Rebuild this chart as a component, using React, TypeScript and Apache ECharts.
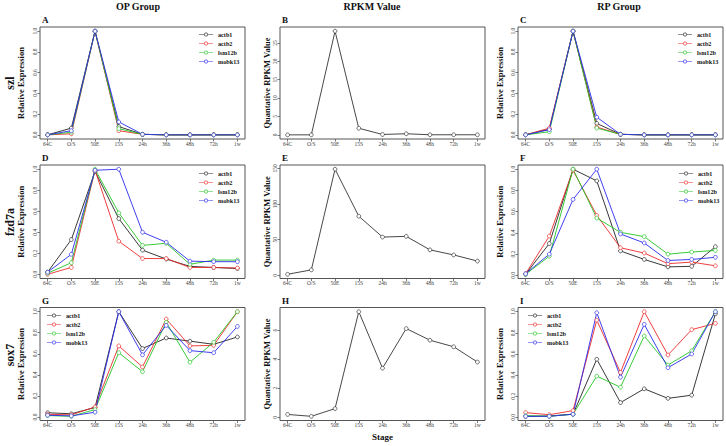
import React, { useEffect, useRef } from "react";
import * as echarts from "echarts";

// ---------- data ----------
const stages = ["64C", "O/S", "50E", "15S", "24h", "36h", "48h", "72h", "1w"];
const genes = ["actb1", "actb2", "lsm12b", "mobk13"];
const rowGenes = ["szl", "fzd7a", "sox7"];
const columnTitles = ["OP Group", "RPKM Value", "RP Group"];
const panelLetters = ["A", "B", "C", "D", "E", "F", "G", "H", "I"];

const relTicks = [0, 0.2, 0.4, 0.6, 0.8, 1.0];
const szlRpkmTicks = [0, 5, 10, 15, 20, 25];
const fzd7aRpkmTicks = [0, 50, 100, 150];
const sox7RpkmTicks = [0, 2, 4, 6];

// szl
const szlOpActb1 = [0, 0.065, 1.0, 0.08, 0.005, 0, 0, 0, 0];
const szlOpActb2 = [0, 0.01, 1.0, 0.04, 0.005, 0, 0, 0, 0];
const szlOpLsm12b = [0, 0.025, 1.0, 0.06, 0.005, 0, 0, 0, 0];
const szlOpMobk13 = [0, 0.04, 1.0, 0.125, 0.005, 0, 0, 0, 0];
const szlRpkm = [0, 0, 28.2, 1.8, 0.1, 0.3, 0.02, 0.02, 0.02];
const szlRpActb1 = [0, 0.055, 1.0, 0.11, 0.005, 0, 0, 0, 0];
const szlRpActb2 = [0, 0.065, 1.0, 0.075, 0.005, 0, 0, 0, 0];
const szlRpLsm12b = [0, 0.03, 1.0, 0.065, 0.005, 0, 0, 0, 0];
const szlRpMobk13 = [0, 0.05, 1.0, 0.17, 0.005, 0, 0, 0, 0];

// fzd7a
const fzdOpActb1 = [0.02, 0.33, 0.98, 0.53, 0.23, 0.145, 0.075, 0.065, 0.055];
const fzdOpActb2 = [0.0, 0.065, 0.99, 0.315, 0.15, 0.15, 0.065, 0.065, 0.06];
const fzdOpLsm12b = [0.01, 0.11, 1.0, 0.585, 0.275, 0.295, 0.095, 0.135, 0.135];
const fzdOpMobk13 = [0.02, 0.19, 0.99, 1.0, 0.4, 0.305, 0.125, 0.12, 0.12];
const fzdRpkm = [1.4, 7.6, 149, 83, 53.7, 54.7, 35.7, 28.6, 20];
const fzdRpActb1 = [0.01, 0.3, 1.0, 0.89, 0.23, 0.15, 0.08, 0.085, 0.27];
const fzdRpActb2 = [0.015, 0.37, 0.99, 0.565, 0.26, 0.21, 0.11, 0.125, 0.09];
const fzdRpLsm12b = [0.01, 0.18, 1.0, 0.54, 0.405, 0.365, 0.2, 0.22, 0.235];
const fzdRpMobk13 = [0.015, 0.2, 0.715, 1.0, 0.39, 0.305, 0.14, 0.15, 0.17];

// sox7
const soxOpActb1 = [0.04, 0.03, 0.09, 1.0, 0.65, 0.75, 0.72, 0.69, 0.76];
const soxOpActb2 = [0.025, 0.02, 0.095, 0.675, 0.475, 0.93, 0.675, 0.68, 1.0];
const soxOpLsm12b = [0.013, 0.006, 0.07, 0.61, 0.43, 0.9, 0.52, 0.71, 1.0];
const soxOpMobk13 = [0.016, 0.01, 0.045, 1.0, 0.59, 0.87, 0.63, 0.61, 0.86];
const soxRpkm = [0.2, 0.07, 0.6, 7.26, 3.38, 6.1, 5.3, 4.85, 3.8];
const soxRpActb1 = [0.01, 0.013, 0.03, 0.55, 0.14, 0.27, 0.18, 0.21, 0.98];
const soxRpActb2 = [0.045, 0.025, 0.064, 0.92, 0.425, 1.0, 0.59, 0.83, 0.89];
const soxRpLsm12b = [0.016, 0.01, 0.03, 0.39, 0.285, 0.77, 0.495, 0.63, 1.0];
const soxRpMobk13 = [0.01, 0.01, 0.03, 0.99, 0.38, 0.88, 0.47, 0.6, 1.0];

// ---------- layout / style ----------
const FONT = '"Liberation Serif", "DejaVu Serif", "Times New Roman", serif';
const geneColors = ["#222222", "#ee2a2a", "#22c522", "#2a2aee"];
const colLeft = [40, 280, 518];
const colWidth = 205;
const rowTop = [27, 165, 307.5];
const rowHeight = [112, 113.5, 113];
const nameGaps = [15, 8, 14];
// legend icon: line segment, open circle, line segment
const LEGEND_ICON =
  "path://M0 4.4H10.4V5.6H0Z M17.6 4.4H28V5.6H17.6Z M14 1.2A3.8 3.8 0 1 1 14 8.8A3.8 3.8 0 1 1 14 1.2Z M14 2.3A2.7 2.7 0 1 0 14 7.7A2.7 2.7 0 1 0 14 2.3Z";

type Panel = {
  row: number;
  col: number;
  lines: number[][];
  ticks: number[];
  rel: boolean;
  legend?: { left: number; top: number };
};

const panels: Panel[] = [
  { row: 0, col: 0, rel: true, ticks: relTicks, lines: [szlOpActb1, szlOpActb2, szlOpLsm12b, szlOpMobk13], legend: { left: 199, top: 31 } },
  { row: 0, col: 1, rel: false, ticks: szlRpkmTicks, lines: [szlRpkm] },
  { row: 0, col: 2, rel: true, ticks: relTicks, lines: [szlRpActb1, szlRpActb2, szlRpLsm12b, szlRpMobk13], legend: { left: 678, top: 31 } },
  { row: 1, col: 0, rel: true, ticks: relTicks, lines: [fzdOpActb1, fzdOpActb2, fzdOpLsm12b, fzdOpMobk13], legend: { left: 199, top: 170 } },
  { row: 1, col: 1, rel: false, ticks: fzd7aRpkmTicks, lines: [fzdRpkm] },
  { row: 1, col: 2, rel: true, ticks: relTicks, lines: [fzdRpActb1, fzdRpActb2, fzdRpLsm12b, fzdRpMobk13], legend: { left: 679, top: 170 } },
  { row: 2, col: 0, rel: true, ticks: relTicks, lines: [soxOpActb1, soxOpActb2, soxOpLsm12b, soxOpMobk13], legend: { left: 47, top: 312 } },
  { row: 2, col: 1, rel: false, ticks: sox7RpkmTicks, lines: [soxRpkm] },
  { row: 2, col: 2, rel: true, ticks: relTicks, lines: [soxRpActb1, soxRpActb2, soxRpLsm12b, soxRpMobk13], legend: { left: 528, top: 312 } },
];

const stageIdx = stages.map((_, i) => i);

function buildOption() {
  const grid = panels.map((p) => ({
    left: colLeft[p.col],
    top: rowTop[p.row],
    width: colWidth,
    height: rowHeight[p.row],
    show: true,
    borderColor: "#555",
    borderWidth: 1,
    backgroundColor: "transparent",
  }));

  const xAxis = panels.map((p, i) => ({
    type: "value",
    gridIndex: i,
    min: -0.32,
    max: 8.32,
    splitLine: { show: false },
    axisLine: { show: false, onZero: false },
    axisTick: { show: true, customValues: stageIdx, length: 2.5, lineStyle: { color: "#555", width: 0.8 } },
    axisLabel: {
      customValues: stageIdx,
      formatter: (v: number) => stages[Math.round(v)] ?? "",
      fontSize: 5.5,
      fontFamily: FONT,
      color: "#444",
      margin: 1.5,
    },
  }));

  const yAxis = panels.map((p, i) => {
    const all = p.lines.flat();
    const lo = Math.min(...all);
    const hi = Math.max(...all);
    const pad = (hi - lo) * 0.04;
    return {
      type: "value",
      gridIndex: i,
      min: lo - pad,
      max: hi + pad,
      splitLine: { show: false },
      axisLine: { show: false, onZero: false },
      axisTick: { show: true, customValues: p.ticks, length: 2.5, lineStyle: { color: "#555", width: 0.8 } },
      axisLabel: {
        customValues: p.ticks,
        formatter: (v: number) => (p.rel ? v.toFixed(1) : String(v)),
        rotate: 90,
        fontSize: 5.5,
        fontFamily: FONT,
        color: "#444",
        margin: 2,
      },
      name: p.rel ? "Relative Expression" : "Quantative RPKM Value",
      nameLocation: "middle",
      nameRotate: 90,
      nameGap: nameGaps[p.col],
      nameTextStyle: { fontFamily: FONT, fontWeight: "bold", fontSize: 8.5, color: "#111" },
    };
  });

  const series: any[] = [];
  panels.forEach((p, i) => {
    p.lines.forEach((vals, k) => {
      const color = p.rel ? geneColors[k] : "#333333";
      series.push({
        type: "line",
        name: p.rel ? genes[k] : "RPKM",
        xAxisIndex: i,
        yAxisIndex: i,
        data: vals.map((v, j) => [j, v]),
        symbol: "circle",
        symbolSize: 3.8,
        lineStyle: { width: 0.9, color },
        itemStyle: { color: "#ffffff", borderColor: color, borderWidth: 0.7 },
        emphasis: { disabled: true },
        silent: true,
      });
    });
  });

  const legend = panels
    .filter((p) => p.legend)
    .map((p) => ({
      data: genes.map((g, k) => ({ name: g, icon: LEGEND_ICON, itemStyle: { color: geneColors[k], borderWidth: 0 } })),
      orient: "vertical",
      left: p.legend!.left,
      top: p.legend!.top,
      itemWidth: 14,
      itemHeight: 3.8,
      itemGap: 2,
      padding: 0,
      selectedMode: false,
      textStyle: { fontFamily: FONT, fontWeight: "bold", fontSize: 6.2, color: "#111", lineHeight: 7 },
    }));

  const graphic: any[] = [];
  const colHeaderX = [138, 372, 619];
  columnTitles.forEach((t, c) => {
    graphic.push({
      type: "text",
      x: colHeaderX[c],
      y: 6,
      style: { text: t, font: `bold 10px ${FONT}`, fill: "#111", textAlign: "center", textVerticalAlign: "middle" },
    });
  });
  const rowLabelY = [83, 222, 355];
  rowGenes.forEach((t, r) => {
    graphic.push({
      type: "text",
      x: 10,
      y: rowLabelY[r],
      rotation: Math.PI / 2,
      style: { text: t, font: `bold 12px ${FONT}`, fill: "#111", textAlign: "center", textVerticalAlign: "middle" },
    });
  });
  const letterY = [20, 158, 301];
  panels.forEach((p, i) => {
    graphic.push({
      type: "text",
      x: colLeft[p.col] + 2,
      y: letterY[p.row],
      style: { text: panelLetters[i], font: `bold 9px ${FONT}`, fill: "#111", textAlign: "left", textVerticalAlign: "middle" },
    });
  });
  graphic.push({
    type: "text",
    x: colLeft[1] + colWidth / 2,
    y: 437,
    style: { text: "Stage", font: `bold 9px ${FONT}`, fill: "#111", textAlign: "center", textVerticalAlign: "middle" },
  });

  return {
    animation: false,
    backgroundColor: "#ffffff",
    textStyle: { fontFamily: FONT },
    grid,
    xAxis,
    yAxis,
    series,
    legend,
    graphic,
  };
}

export default function App() {
  const ref = useRef<HTMLDivElement>(null);
  useEffect(() => {
    if (!ref.current) return;
    const chart = echarts.init(ref.current, null, { renderer: "svg" });
    chart.setOption(buildOption() as any);
    return () => chart.dispose();
  }, []);
  return (
    <div
      ref={ref}
      style={{ position: "absolute", left: 0, top: 0, width: 726, height: 446, background: "#fff" }}
    />
  );
}
